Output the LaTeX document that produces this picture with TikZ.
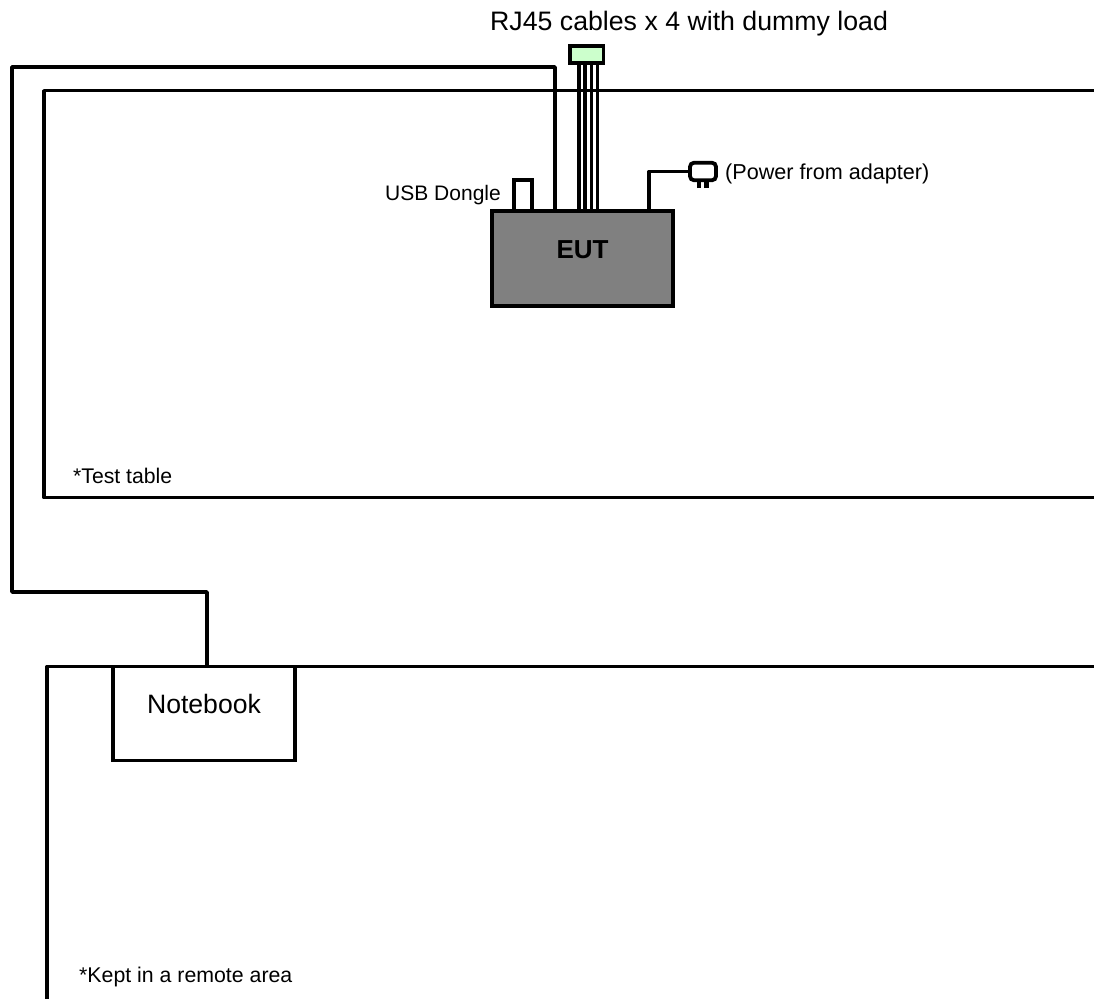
\documentclass[tikz,border=0pt]{standalone}
\usepackage{fontspec}
\setmainfont{Liberation Sans}
\tikzset{
  wire/.style={line width=3.8pt, line join=round},
  boxed/.style={draw, line width=3.8pt, inner sep=0pt},
  lbl/.style={inner sep=0pt, anchor=west}
}
\newcommand{\fs}[1]{\fontsize{#1}{#1}\selectfont}
\begin{document}
\begin{tikzpicture}[x=1pt, y=-1pt]
  \useasboundingbox (0,0) rectangle (1094,999);

  % Test table and remote area, both open on the right
  \draw[wire, line width=3.4pt] (1094,90.7) -- (44,90.7) -- (44,497.7) -- (1094,497.7);
  \draw[wire] (1094,666.5) -- (47,666.5) -- (47,999);

  % Devices
  \node[boxed, fill=white, minimum width=182pt, minimum height=94pt, font=\fs{26.6}, text depth=20pt] (notebook) at (204,713.5) {Notebook};
  \node[boxed, fill=black!50, minimum width=181pt, minimum height=95pt, font=\fs{26}\bfseries, text depth=18pt] (eut) at (582.5,258.5) {EUT};
  \node[boxed, minimum width=18pt, minimum height=31pt] (dongle) at (523,195.5) {};
  \node[boxed, fill=green!20, minimum width=33.5pt, minimum height=17pt] (load) at (586.8,54.5) {};
  \node[boxed, rounded corners=4pt, minimum width=26pt, minimum height=17.5pt] (plug) at (703,171.5) {};

  % Plug prongs
  \foreach \i/\x in {1/699, 2/706.5} {
    \coordinate (prong\i) at (\x,188);
    \draw[wire, line width=4.4pt] (prong\i) -- (prong\i |- plug.south);
  }

  % RJ45 cables
  \foreach \i/\x in {1/579.2, 2/585.3, 3/591.4, 4/597.5} {
    \coordinate (rj\i) at (\x,211);
    \draw[wire] (rj\i |- load.south) -- (rj\i);
  }

  % USB cable and power cable
  \coordinate (usbtop) at (555,211);
  \coordinate (pwrtop) at (649,211);
  \draw[wire] (usbtop) -- (555,67) -- (12,67) -- (12,592) -- (207,592) -- (notebook.north -| 207,0);
  \draw[wire] (pwrtop) |- (plug.west);

  % Labels
  \node[font=\fs{21}, anchor=east, inner sep=0pt] (donglelbl) at (501,195) {USB Dongle};
  \node[font=\fs{21.6}, lbl] (plugbl) at (725,174) {(Power from adapter)};
  \node[font=\fs{26.7}, lbl] (loadlbl) at (490,24) {RJ45 cables x 4 with dummy load};
  \node[font=\fs{21.2}, lbl] (tablelbl) at (73,476) {*Test table};
  \node[font=\fs{21.3}, lbl] (remotelbl) at (79,977) {*Kept in a remote area};
\end{tikzpicture}
\end{document}
